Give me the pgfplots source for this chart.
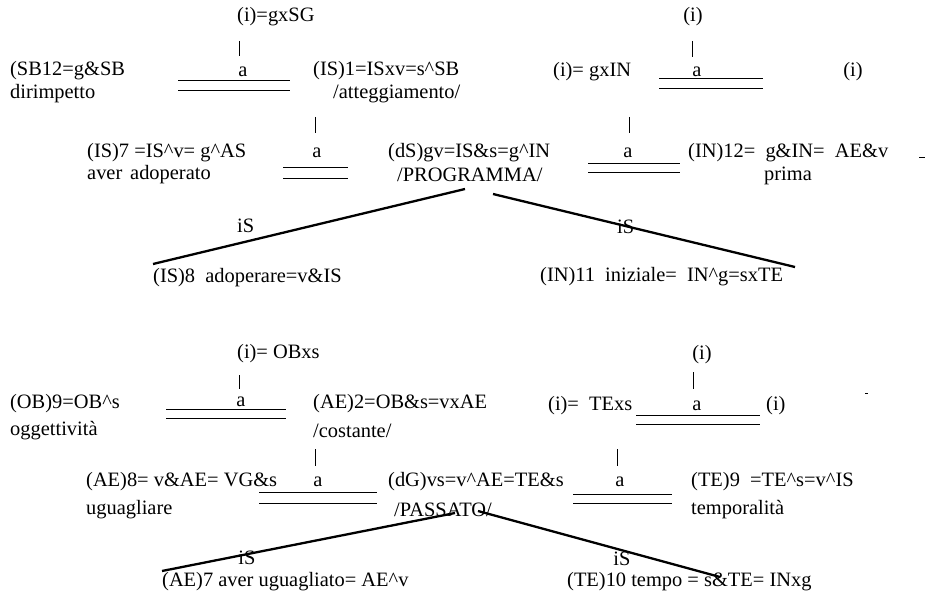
\documentclass[border=0pt]{standalone}
\usepackage{fontspec}
\setmainfont{Liberation Serif}
\usepackage{pgfplots}
\pgfplotsset{compat=1.18}
\tikzset{
  t/.style={anchor=west,inner sep=0pt,font=\fontsize{20.5}{23}\selectfont},
  c/.style={anchor=center,inner sep=0pt,font=\fontsize{20.5}{23}\selectfont},
  th/.style={black,line width=1bp,mark=none},
  br/.style={black,line width=0.8bp,mark=none},
  dg/.style={black,line width=2.3bp,mark=none}}
\begin{document}
\begin{tikzpicture}
\begin{axis}[width=926bp,height=598bp,scale only axis,
  xmin=0,xmax=926,ymin=0,ymax=598,y dir=reverse,
  hide axis,clip=false]
% frame (invisible) to fix size
\addplot[draw=none] coordinates {(0,0) (926,598)};
% ===== upper block: double lines =====
\addplot[th] coordinates {(178,81) (290,81)};
\addplot[th] coordinates {(178,91) (290,91)};
\addplot[th] coordinates {(283,167) (348,167)};
\addplot[th] coordinates {(283,178) (348,178)};
\addplot[th] coordinates {(659,79) (763,79)};
\addplot[th] coordinates {(659,89) (763,89)};
\addplot[th] coordinates {(588,163) (680,163)};
\addplot[th] coordinates {(588,172) (680,172)};
\addplot[th] coordinates {(919,157) (925,157)};
% bars
\addplot[br] coordinates {(239,41) (239,56)};
\addplot[br] coordinates {(315,117) (315,133)};
\addplot[br] coordinates {(692,41) (692,57)};
\addplot[br] coordinates {(629,117) (629,133)};
% diagonals
\addplot[dg] coordinates {(153,264) (465,189)};
\addplot[dg] coordinates {(493,194) (795,267)};
% ===== lower block =====
\addplot[th] coordinates {(166,409) (286,409)};
\addplot[th] coordinates {(166,418) (286,418)};
\addplot[th] coordinates {(636,415) (760,415)};
\addplot[th] coordinates {(636,424) (760,424)};
\addplot[th] coordinates {(259,492) (377,492)};
\addplot[th] coordinates {(259,503) (377,503)};
\addplot[th] coordinates {(573,494) (672,494)};
\addplot[th] coordinates {(573,503) (672,503)};
\addplot[th] coordinates {(865,393) (868,393)};
\addplot[br] coordinates {(239,375) (239,389)};
\addplot[br] coordinates {(693,372) (693,389)};
\addplot[br] coordinates {(315,449) (315,466)};
\addplot[br] coordinates {(617,449) (617,466)};
\addplot[dg] coordinates {(162,571) (455,513)};
\addplot[dg] coordinates {(478,511) (720,577)};
% ===== text: upper =====
\node[t] at (axis cs:237,17) {(i)=gxSG};
\node[t] at (axis cs:10,71) {(SB12=g\&SB};
\node[t] at (axis cs:10,94) {dirimpetto};
\node[c] at (axis cs:243,72) {a};
\node[t] at (axis cs:313,71) {(IS)1=ISxv=s\textasciicircum SB};
\node[t] at (axis cs:333,94) {/atteggiamento/};
\node[t] at (axis cs:87,153) {(IS)7 =IS\textasciicircum v= g\textasciicircum AS};
\node[t] at (axis cs:87,175) {aver};
\node[t] at (axis cs:130,175) {adoperato};
\node[c] at (axis cs:317,153) {a};
\node[t] at (axis cs:388,153) {(dS)gv=IS\&s=g\textasciicircum IN};
\node[t] at (axis cs:397,175) {/PROGRAMMA/};
\node[c] at (axis cs:693,17) {(i)};
\node[t] at (axis cs:553,72) {(i)= gxIN};
\node[c] at (axis cs:697,72) {a};
\node[c] at (axis cs:853,72) {(i)};
\node[c] at (axis cs:628,153) {a};
\node[t] at (axis cs:688,153) {(IN)12=\ \ g\&IN=\ \ AE\&v};
\node[c] at (axis cs:788,176) {prima};
\node[t] at (axis cs:237,226) {iS};
\node[t] at (axis cs:617,227) {iS};
\node[t] at (axis cs:153,278) {(IS)8\ \ adoperare=v\&IS};
\node[t] at (axis cs:540,277) {(IN)11\ \ iniziale=\ \ IN\textasciicircum g=sxTE};
% ===== text: lower =====
\node[t] at (axis cs:237,354) {(i)= OBxs};
\node[t] at (axis cs:10,404) {(OB)9=OB\textasciicircum s};
\node[t] at (axis cs:10,431) {oggettività};
\node[c] at (axis cs:241,402) {a};
\node[t] at (axis cs:313,404) {(AE)2=OB\&s=vxAE};
\node[t] at (axis cs:313,431) {/costante/};
\node[c] at (axis cs:702,355) {(i)};
\node[t] at (axis cs:548,406) {(i)=\ \ TExs};
\node[c] at (axis cs:697,406) {a};
\node[t] at (axis cs:766,406) {(i)};
\node[t] at (axis cs:86,482) {(AE)8= v\&AE= VG\&s};
\node[c] at (axis cs:318,482) {a};
\node[t] at (axis cs:86,510) {uguagliare};
\node[t] at (axis cs:388,482) {(dG)vs=v\textasciicircum AE=TE\&s};
\node[t] at (axis cs:394,510) {/PASSATO/};
\node[c] at (axis cs:620,482) {a};
\node[t] at (axis cs:691,482) {(TE)9\ \ =TE\textasciicircum s=v\textasciicircum IS};
\node[t] at (axis cs:691,510) {temporalità};
\node[c] at (axis cs:247,558) {iS};
\node[c] at (axis cs:622,559) {iS};
\node[t] at (axis cs:162,582) {(AE)7 aver uguagliato= AE\textasciicircum v};
\node[t] at (axis cs:567,582) {(TE)10 tempo = s\&TE= INxg};
\end{axis}
\end{tikzpicture}
\end{document}
